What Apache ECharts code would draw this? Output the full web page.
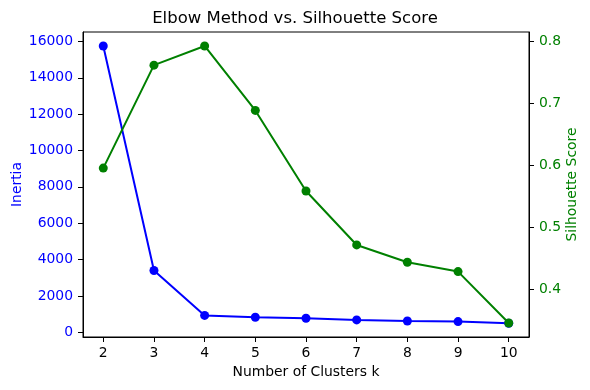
<!DOCTYPE html>
<html><head><meta charset="utf-8">
<script src="https://cdn.jsdelivr.net/npm/echarts@6/dist/echarts.min.js"></script>
<style>html,body{margin:0;padding:0;background:#fff}#c{width:590px;height:390px}</style>
</head><body><div id="c"></div>
<script>
const kValues = [2, 3, 4, 5, 6, 7, 8, 9, 10];
const inertia = [15750, 3400, 930, 830, 770, 680, 620, 590, 500];
const silhouette = [0.595, 0.761, 0.792, 0.688, 0.558, 0.471, 0.443, 0.428, 0.345];
const xTicks = [2, 3, 4, 5, 6, 7, 8, 9, 10];
const inertiaTicks = [0, 2000, 4000, 6000, 8000, 10000, 12000, 14000, 16000];
const silTicks = [0.4, 0.5, 0.6, 0.7, 0.8];

const font = 'DejaVu Sans';
const fs = 13.9;
const chart = echarts.init(document.getElementById('c'), null, {renderer: 'canvas'});
chart.setOption({
  animation: false,
  backgroundColor: '#fff',
  textStyle: {fontFamily: font},
  title: {
    text: 'Elbow Method vs. Silhouette Score',
    left: 'center', top: 10, padding: 0,
    textStyle: {fontFamily: font, fontSize: 16.5, fontWeight: 'normal', color: '#000'}
  },
  grid: {left: 83, right: 61, top: 32, bottom: 53, outerBoundsMode: 'none', containLabel: false,
    show: true, borderColor: '#000', borderWidth: 1, backgroundColor: 'transparent'},
  xAxis: {
    type: 'value', min: 1.6, max: 10.4,
    name: 'Number of Clusters k', nameLocation: 'middle', nameGap: 28, nameMoveOverlap: false,
    nameTextStyle: {fontFamily: font, fontSize: fs, color: '#000'},
    axisLine: {show: true, onZero: false, lineStyle: {color: '#000', width: 1}},
    axisTick: {show: true, length: 5, customValues: xTicks, lineStyle: {color: '#000'}},
    axisLabel: {customValues: xTicks, margin: 9, fontFamily: font, fontSize: fs, color: '#000',
      formatter: v => String(v)},
    splitLine: {show: false}
  },
  yAxis: [{
    type: 'value', position: 'left', min: -259, max: 16518,
    name: 'Inertia', nameLocation: 'middle', nameRotate: 90, nameGap: 59, nameMoveOverlap: false,
    nameTextStyle: {fontFamily: font, fontSize: fs, color: '#0000ff'},
    axisLine: {show: true, onZero: false, lineStyle: {color: '#000', width: 1}},
    axisTick: {show: true, length: 5, customValues: inertiaTicks, lineStyle: {color: '#000'}},
    axisLabel: {customValues: inertiaTicks, margin: 10, fontFamily: font, fontSize: fs, color: '#0000ff',
      formatter: v => String(Math.round(v))},
    splitLine: {show: false}
  }, {
    type: 'value', position: 'right', min: 0.3225, max: 0.8145,
    name: 'Silhouette Score', nameLocation: 'middle', nameRotate: 90, nameGap: 36, nameMoveOverlap: false,
    nameTextStyle: {fontFamily: font, fontSize: fs, color: '#008000'},
    axisLine: {show: true, onZero: false, lineStyle: {color: '#000', width: 1}},
    axisTick: {show: true, length: 5, customValues: silTicks, lineStyle: {color: '#000'}},
    axisLabel: {customValues: silTicks, margin: 10, fontFamily: font, fontSize: fs, color: '#008000',
      formatter: v => v.toFixed(1)},
    splitLine: {show: false}
  }],
  series: [{
    type: 'line', yAxisIndex: 0,
    data: kValues.map((k, i) => [k, inertia[i]]),
    symbol: 'circle', symbolSize: 9, showAllSymbol: true,
    lineStyle: {color: '#0000ff', width: 2}, itemStyle: {color: '#0000ff'}
  }, {
    type: 'line', yAxisIndex: 1,
    data: kValues.map((k, i) => [k, silhouette[i]]),
    symbol: 'circle', symbolSize: 9, showAllSymbol: true,
    lineStyle: {color: '#008000', width: 2}, itemStyle: {color: '#008000'}
  }]
});
</script></body></html>
